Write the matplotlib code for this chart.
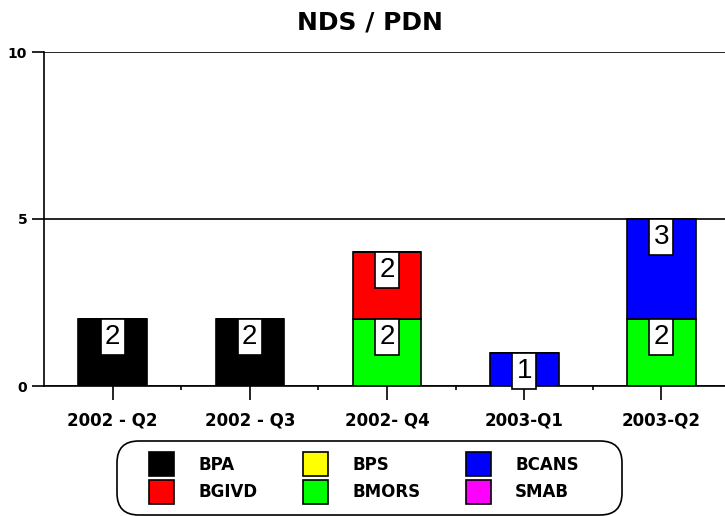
import numpy as np
import matplotlib.pyplot as plt
from matplotlib.patches import Patch, Rectangle, FancyBboxPatch

plt.rcParams['font.family'] = ['DejaVu Sans']

categories = ["2002 - Q2", "2002 - Q3", "2002- Q4", "2003-Q1", "2003-Q2"]
series_names = ["BPA", "BGIVD", "BPS", "BMORS", "BCANS", "SMAB"]
colors = ["#000000", "#ff0000", "#ffff00", "#00ff00", "#0000ff", "#ff00ff"]
BPA = [2, 2, 0, 0, 0]
BGIVD = [0, 0, 2, 0, 0]
BPS = [0, 0, 0, 0, 0]
BMORS = [0, 0, 2, 0, 2]
BCANS = [0, 0, 0, 1, 3]
SMAB = [0, 0, 0, 0, 0]

values = {"BPA": BPA, "BGIVD": BGIVD, "BPS": BPS, "BMORS": BMORS, "BCANS": BCANS, "SMAB": SMAB}
stack_order = ["BPA", "BMORS", "BGIVD", "BCANS", "BPS", "SMAB"]
col = dict(zip(series_names, colors))

W, H = 725, 516
fig = plt.figure(figsize=(W / 100, H / 100), dpi=100)
# axes runs slightly past the right edge of the figure, as in the original
ax = fig.add_axes([44 / W, 1 - 386 / H, (730 - 44) / W, (386 - 52) / H])

x = np.arange(len(categories))
bottom = np.zeros(len(categories))
for name in stack_order:
    v = np.array(values[name], dtype=float)
    ax.bar(x, v, width=0.5, bottom=bottom, color=col[name], edgecolor="black",
           linewidth=1.2, zorder=3)
    for i in range(len(x)):
        if v[i] > 0:
            top = bottom[i] + v[i]
            ax.add_patch(Rectangle((x[i] - 0.088, top - 1.08), 0.176, 1.08,
                                   facecolor="white", edgecolor="black",
                                   linewidth=1.2, zorder=4, clip_on=False))
            ax.text(x[i], top - 0.54, str(int(v[i])), ha="center", va="center",
                    fontsize=20, family=['Liberation Sans Narrow', 'Liberation Sans'],
                    zorder=5)
    bottom += v

ax.set_xlim(-0.5, 4.5)
ax.set_ylim(0, 10)
ax.set_yticks([0, 5, 10])
ax.set_yticklabels(["0", "5", "10"], fontweight="bold", fontsize=10)
ax.set_xticks(x)
ax.set_xticklabels(categories, fontweight="bold", fontsize=12)
ax.set_xticks(x + 0.5, minor=True)
ax.tick_params(axis="x", which="major", length=10, width=1.2, pad=8)
ax.tick_params(axis="x", which="minor", length=3, width=1.2)
ax.tick_params(axis="y", length=8.6, width=1.2, pad=3.5)
ax.yaxis.grid(True, color="black", linewidth=1.2, zorder=0)
for s in ["top", "right"]:
    ax.spines[s].set_visible(False)
ax.spines["left"].set_linewidth(1.2)
ax.spines["bottom"].set_linewidth(1.2)

fig.text(370 / W, 1 - 22 / H, "NDS / PDN", ha="center", va="center", fontsize=18,
         fontweight="bold")

# legend frame drawn separately so its size matches the original
fig.patches.append(FancyBboxPatch((117 / W, 1 - 515 / H), 505 / W, 74 / H,
                                  boxstyle="round,pad=0,rounding_size=0.03",
                                  mutation_aspect=W / H,
                                  transform=fig.transFigure, facecolor="white",
                                  edgecolor="black", linewidth=1.2))

handles = [Patch(facecolor=col[n], edgecolor="black", linewidth=1.2) for n in series_names]
leg = fig.legend(handles, series_names, ncol=3, loc="center",
                 bbox_to_anchor=(364 / W, 1 - 478 / H),
                 prop={"weight": "bold", "size": 12}, handlelength=1.5,
                 handleheight=1.83, handletextpad=1.44, columnspacing=2.75,
                 labelspacing=0.2, borderpad=0, frameon=False)

fig.savefig("out.png")
